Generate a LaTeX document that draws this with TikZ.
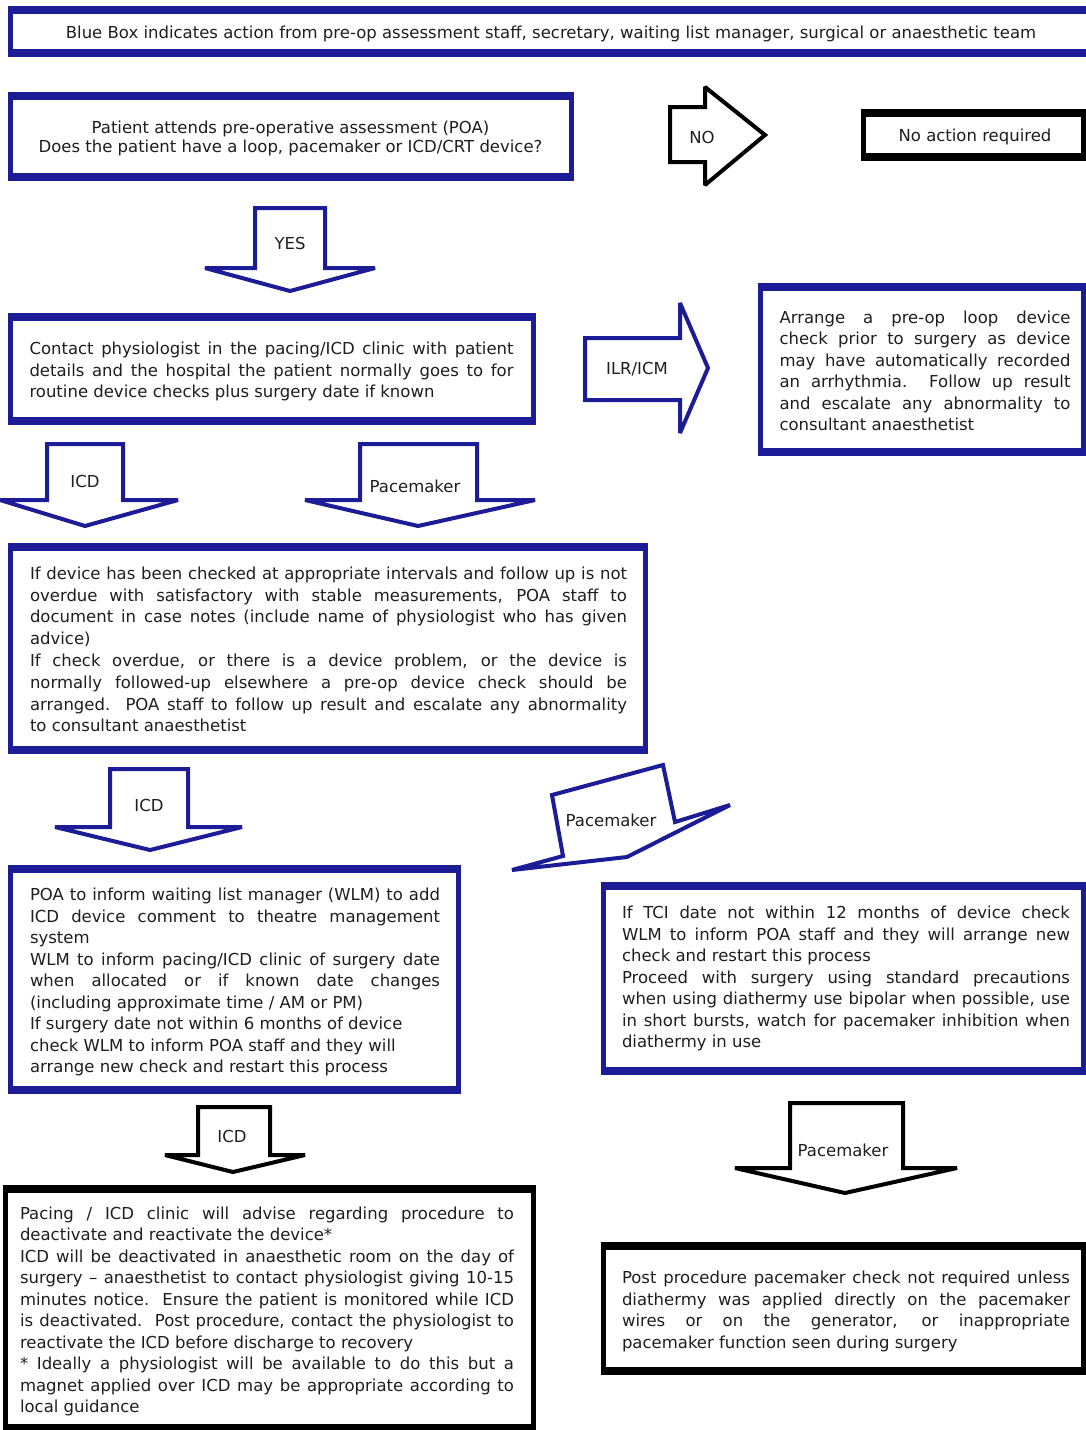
\documentclass[tikz,border=0pt]{standalone}
\usepackage{fontspec}
\setmainfont{DejaVu Sans}
\definecolor{bx}{RGB}{28,28,150}
\definecolor{tx}{RGB}{30,30,30}
\newcommand\drawbx[5]{%
  \draw[#1,line width=5pt,fill=white] (#2,#3) rectangle (#4,#5);
  \draw[#1,line width=7.5pt] (#2-2.5,#3) -- (#4+2.5,#3) (#2-2.5,#5) -- (#4+2.5,#5);}
\begin{document}
\begin{tikzpicture}[x=1pt,y=-1pt,
  every node/.style={text=tx, font=\fontsize{16.5}{21.5}\selectfont},
  txt/.style={inner sep=0pt, align=justify},
  bluearrow/.style={draw=bx, line width=4pt, line join=miter, miter limit=2, fill=white},
  blackarrow/.style={draw=black, line width=4pt, line join=miter, miter limit=2, fill=white},
  lbl/.style={inner sep=0pt}]
\useasboundingbox (0,0) rectangle (1086,1430);
\fill[white] (0,0) rectangle (1086,1430);

% header
\drawbx{bx}{10}{10}{1095}{53}
\node[lbl] (hdr) at (551,34)
  {Blue Box indicates action from pre-op assessment staff, secretary, waiting list manager, surgical or anaesthetic team};

% POA question
\drawbx{bx}{10}{96}{571}{177}
\node[lbl, align=center, font=\fontsize{16.5}{19.5}\selectfont] (poa) at (290.5,138.5)
  {Patient attends pre-operative assessment (POA)\\Does the patient have a loop, pacemaker or ICD/CRT device?};

% NO arrow
\draw[blackarrow] (670,107) -- (705,107) -- (705,87) -- (765,135) -- (705,185) -- (705,162) -- (670,162) -- cycle;
\node[lbl] (no) at (702,137) {NO};

\drawbx{black}{863}{113}{1083}{157}
\node[lbl] (noaction) at (975,137) {No action required};

% YES arrow
\draw[bluearrow] (255,208) -- (325,208) -- (325,268) -- (375,268) -- (290,291) -- (205,268) -- (255,268) -- cycle;
\node[lbl] (yes) at (290,243) {YES};

% contact box
\drawbx{bx}{10}{317}{533}{421}
\node[txt, text width=484pt] (contact) at (271.5,371.5)
  {Contact physiologist in the pacing/ICD clinic with patient\linebreak
   details and the hospital the patient normally goes to for\linebreak
   routine device checks plus surgery date if known};

% ILR/ICM arrow
\draw[bluearrow] (585,338) -- (680,338) -- (680,303) -- (708,368) -- (680,433) -- (680,400) -- (585,400) -- cycle;
\node[lbl] (ilr) at (637,369) {ILR/ICM};

% arrange box
\drawbx{bx}{760}{287}{1083}{452}
\node[txt, text width=291pt] (arrange) at (925,371)
  {Arrange a pre-op loop device\linebreak
   check prior to surgery as device\linebreak
   may have automatically recorded\linebreak
   an arrhythmia.\ \ Follow up result\linebreak
   and escalate any abnormality to\linebreak
   consultant anaesthetist};

% ICD arrow 1
\draw[bluearrow] (47,444) -- (123,444) -- (123,500) -- (178,500) -- (85,526) -- (0,500) -- (47,500) -- cycle;
\node[lbl] (icdA) at (85,481) {ICD};

% Pacemaker arrow 1
\draw[bluearrow] (360,444) -- (477,444) -- (477,500) -- (535,500) -- (418,526) -- (305,500) -- (360,500) -- cycle;
\node[lbl] (pmA) at (415,486) {Pacemaker};

% big box
\drawbx{bx}{10}{547}{645}{750}
\node[txt, text width=597pt, font=\fontsize{16.5}{21.8}\selectfont] (check) at (328.5,649.5)
  {If device has been checked at appropriate intervals and follow up is not\linebreak
   overdue with satisfactory with stable measurements, POA staff to\linebreak
   document in case notes (include name of physiologist who has given\linebreak
   advice)\\
   If check overdue, or there is a device problem, or the device is\linebreak
   normally followed-up elsewhere a pre-op device check should be\linebreak
   arranged.\ \ POA staff to follow up result and escalate any abnormality\linebreak
   to consultant anaesthetist};

% ICD arrow 2
\draw[bluearrow] (110,769) -- (188,769) -- (188,827) -- (242,827) -- (150,850) -- (55,827) -- (110,827) -- cycle;
\node[lbl] (icdB) at (149,805) {ICD};

% Pacemaker arrow 2 (tilted)
\draw[bluearrow] (552,795) -- (663,765) -- (675,822) -- (730,805) -- (627,857) -- (512,870) -- (563,856) -- cycle;
\node[lbl] (pmB) at (611,820) {Pacemaker};

% POA inform box
\drawbx{bx}{10}{869}{458}{1090}
\node[txt, text width=410pt] (inform) at (235,982)
  {POA to inform waiting list manager (WLM) to add\linebreak
   ICD device comment to theatre management\linebreak
   system\\
   WLM to inform pacing/ICD clinic of surgery date\linebreak
   when allocated or if known date changes\linebreak
   (including approximate time / AM or PM)\\
   If surgery date not within 6 months of device\\
   check WLM to inform POA staff and they will\\
   arrange new check and restart this process};

% TCI box
\drawbx{bx}{603}{886}{1083}{1071}
\node[txt, text width=448pt] (tci) at (846,978.5)
  {If TCI date not within 12 months of device check\linebreak
   WLM to inform POA staff and they will arrange new\linebreak
   check and restart this process\\
   Proceed with surgery using standard precautions\linebreak
   when using diathermy use bipolar when possible, use\linebreak
   in short bursts, watch for pacemaker inhibition when\linebreak
   diathermy in use};

% ICD arrow 3
\draw[blackarrow] (198,1107) -- (270,1107) -- (270,1155) -- (305,1155) -- (233,1172) -- (165,1155) -- (198,1155) -- cycle;
\node[lbl] (icdC) at (232,1136) {ICD};

% Pacemaker arrow 3
\draw[blackarrow] (790,1103) -- (903,1103) -- (903,1168) -- (957,1168) -- (845,1193) -- (735,1168) -- (790,1168) -- cycle;
\node[lbl] (pmC) at (843,1150) {Pacemaker};

% pacing box
\drawbx{black}{5}{1189}{533}{1428}
\node[txt, text width=494pt] (pacing) at (267,1311.5)
  {Pacing / ICD clinic will advise regarding procedure to\linebreak
   deactivate and reactivate the device*\\
   ICD will be deactivated in anaesthetic room on the day of\linebreak
   surgery -- anaesthetist to contact physiologist giving 10-15\linebreak
   minutes notice.\ \ Ensure the patient is monitored while ICD\linebreak
   is deactivated.\ \ Post procedure, contact the physiologist to\linebreak
   reactivate the ICD before discharge to recovery\\
   {*} Ideally a physiologist will be available to do this but a\linebreak
   magnet applied over ICD may be appropriate according to\linebreak
   local guidance};

% post box
\drawbx{black}{603}{1246}{1083}{1371}
\node[txt, text width=448pt] (post) at (846,1311.5)
  {Post procedure pacemaker check not required unless\linebreak
   diathermy was applied directly on the pacemaker\linebreak
   wires or on the generator, or inappropriate\linebreak
   pacemaker function seen during surgery};
\end{tikzpicture}
\end{document}
